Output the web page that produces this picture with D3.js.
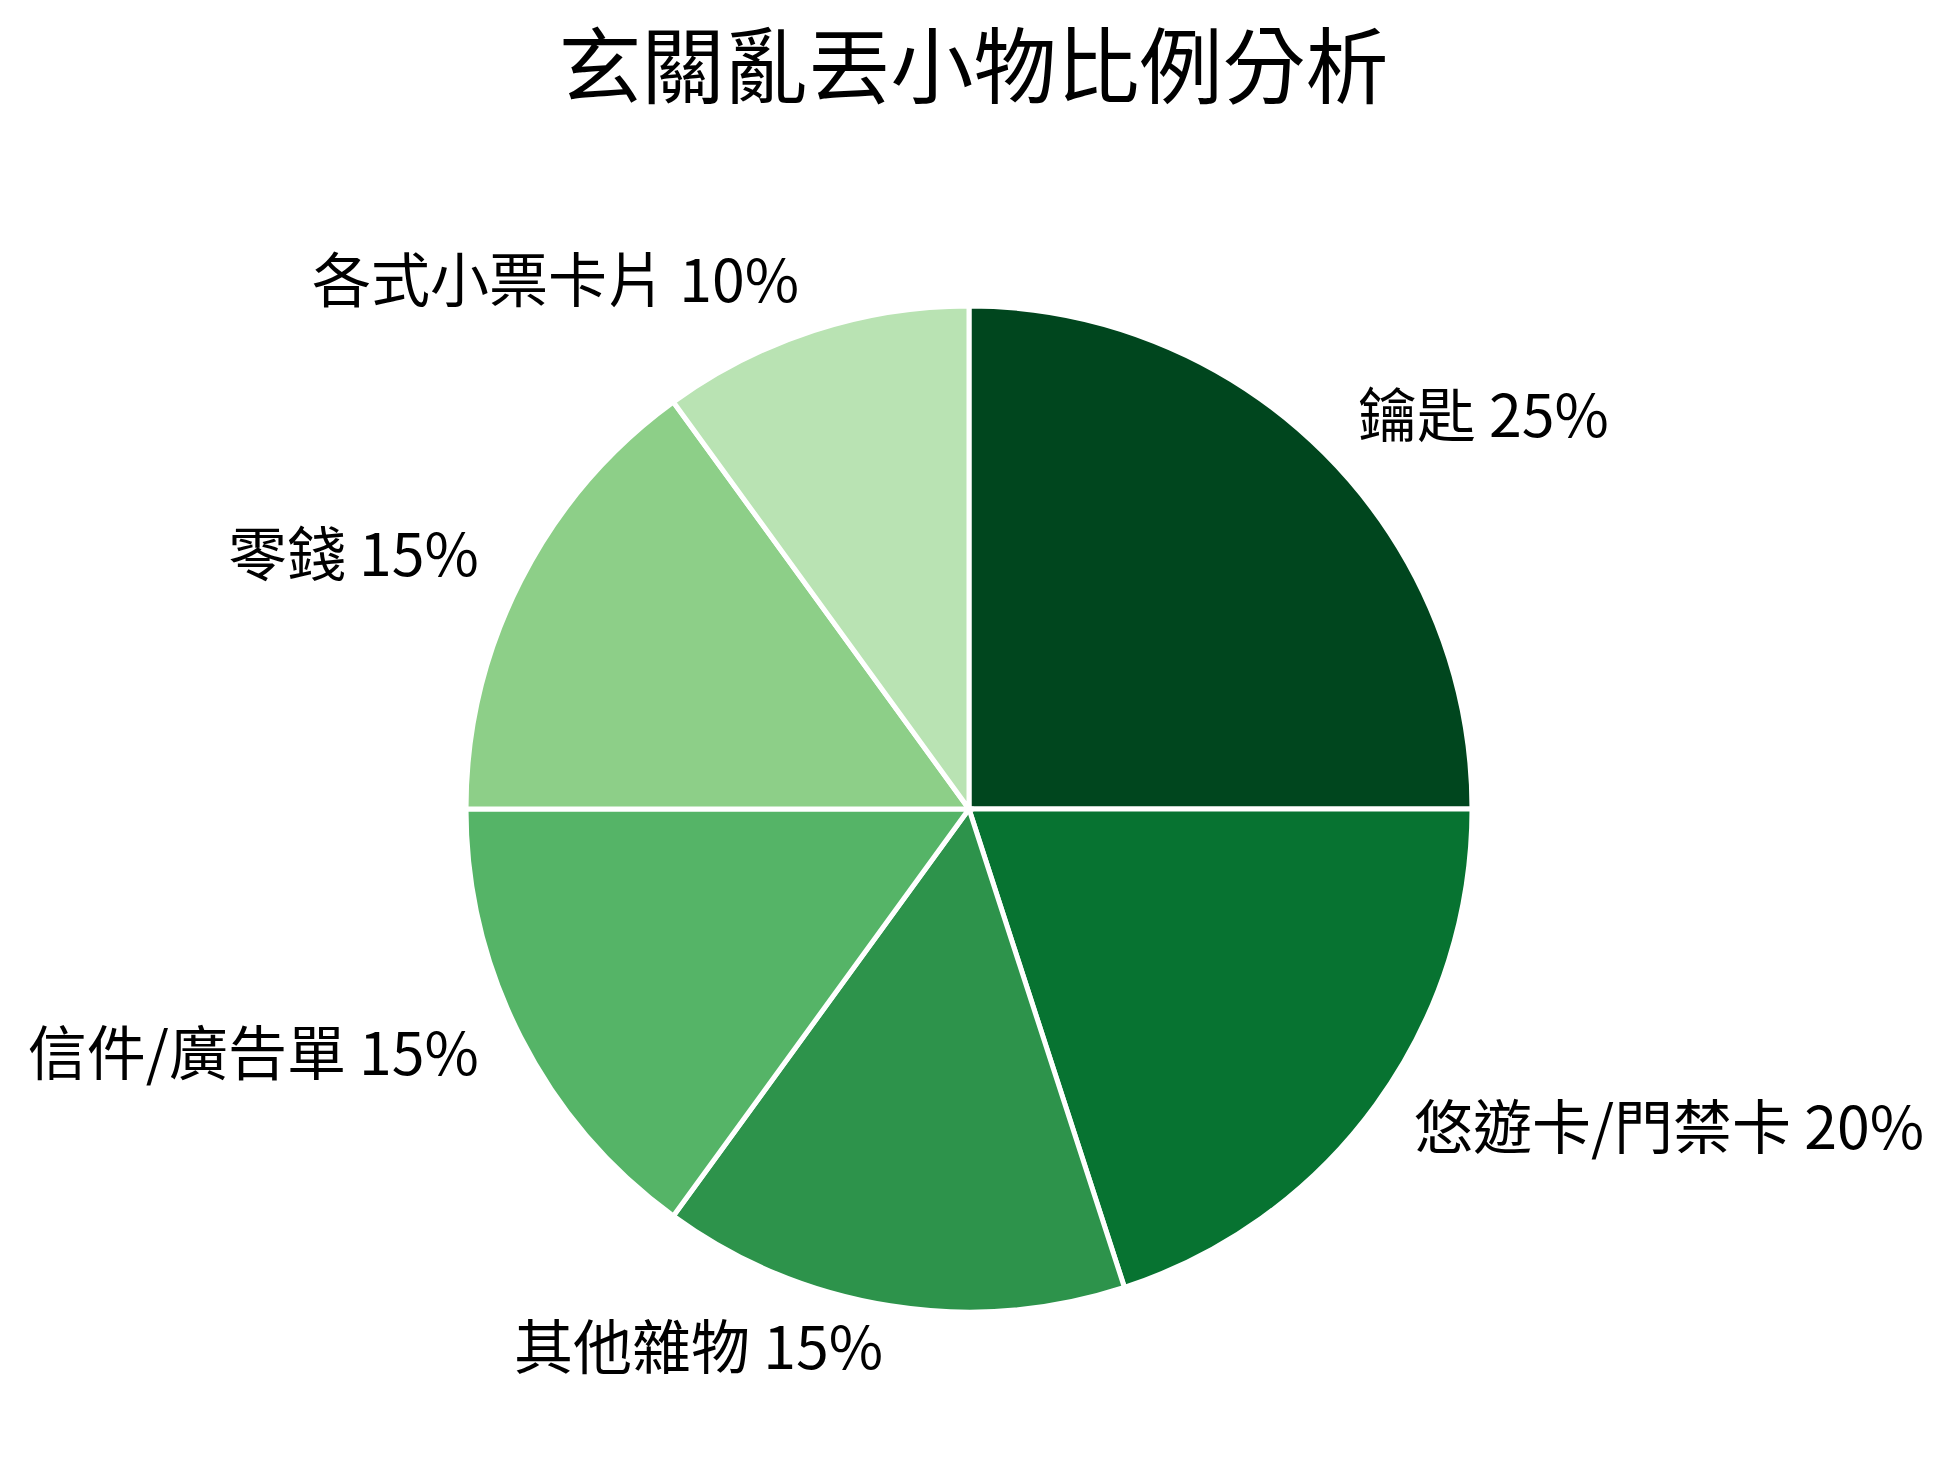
<!DOCTYPE html>
<html>
<head>
<meta charset="utf-8">
<script src="https://cdn.jsdelivr.net/npm/d3@7"></script>
<style>
  body { margin: 0; background: #fff; }
  text { font-family: "Noto Sans CJK TC", "Noto Sans CJK SC", sans-serif; fill: #000; }
</style>
</head>
<body>
<svg id="chart" width="1951" height="1468"></svg>
<script>
// data
var categories = ['鑰匙', '悠遊卡/門禁卡', '其他雜物', '信件/廣告單', '零錢', '各式小票卡片'];
var shares = [25, 20, 15, 15, 15, 10];
var colours = ['#00461e', '#077331', '#2d934b', '#55b467', '#8dcf88', '#b9e3b3'];
var title = '玄關亂丟小物比例分析';

var width = 1951, height = 1468;
var cx = 969, cy = 809, radius = 503;
var labelFactor = 1.1;

var svg = d3.select('#chart');

// title
svg.append('text')
  .attr('x', width / 2 - 2)
  .attr('y', 97)
  .attr('text-anchor', 'middle')
  .style('font-size', '83px')
  .text(title);

var rows = categories.map(function (c, i) {
  return { name: c, value: shares[i], colour: colours[i] };
});

// clockwise from 12 o'clock, keep given order
var pie = d3.pie()
  .value(function (d) { return d.value; })
  .sort(null);

var arc = d3.arc()
  .innerRadius(0)
  .outerRadius(radius);

var g = svg.append('g')
  .attr('transform', 'translate(' + cx + ',' + cy + ')');

var slices = pie(rows);

g.selectAll('path.slice')
  .data(slices)
  .join('path')
  .attr('class', 'slice')
  .attr('d', arc)
  .attr('fill', function (d) { return d.data.colour; })
  .attr('stroke', '#fff')
  .attr('stroke-width', 5)
  .attr('stroke-linejoin', 'miter');

// labels outside, anchored by which side of the pie they sit on
g.selectAll('text.label')
  .data(slices)
  .join('text')
  .attr('class', 'label')
  .attr('x', function (d) {
    var a = (d.startAngle + d.endAngle) / 2;
    return Math.sin(a) * 500 * labelFactor;
  })
  .attr('y', function (d) {
    var a = (d.startAngle + d.endAngle) / 2;
    return -Math.cos(a) * 500 * labelFactor;
  })
  .attr('dy', '0.28em')
  .attr('text-anchor', function (d) {
    var a = (d.startAngle + d.endAngle) / 2;
    return Math.sin(a) >= 0 ? 'start' : 'end';
  })
  .style('font-size', '59px')
  .text(function (d) { return d.data.name + ' ' + d.data.value + '%'; });
</script>
</body>
</html>
